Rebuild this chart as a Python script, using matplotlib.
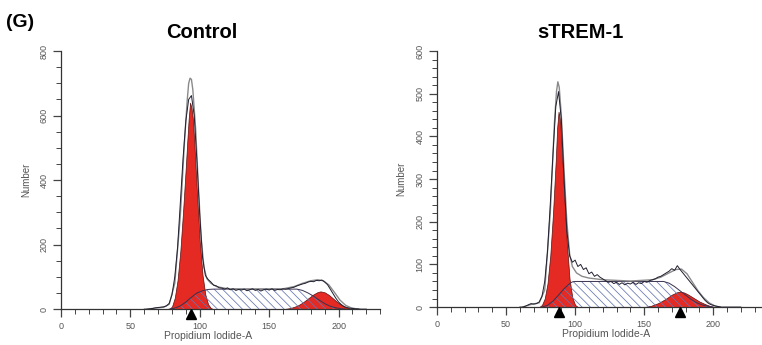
import numpy as np
import matplotlib
matplotlib.use('Agg')
import matplotlib.pyplot as plt
import matplotlib.transforms as mtransforms
from matplotlib.ticker import MultipleLocator

plt.rcParams['font.family'] = ['Liberation Sans', 'DejaVu Sans']
plt.rcParams['hatch.linewidth'] = 0.55

# channel positions of the measured histogram (both samples)
channels = np.arange(60, 222, 2)

# Control - measured counts
data_ctrl = [0, 0, 1, 2, 4, 5, 6, 7, 10, 18,
             45, 100, 190, 330, 470, 585, 650, 662, 600, 455,
             290, 160, 105, 92, 84, 74, 72, 66, 65, 62,
             66, 60, 63, 58, 61, 59, 62, 57, 60, 63,
             58, 61, 56, 60, 62, 59, 63, 58, 61, 60,
             63, 62, 64, 66, 68, 72, 75, 78, 80, 84,
             86, 85, 89, 88, 90, 84, 76, 62, 48, 34,
             22, 14, 8, 5, 3, 2, 1, 1, 0, 0,
             0]

# sTREM-1 - measured counts
data_trem = [0, 0, 2, 5, 8, 7, 8, 12, 25, 60,
             130, 240, 360, 470, 505, 440, 300, 180, 120, 105,
             110, 95, 100, 88, 92, 78, 82, 72, 76, 70,
             66, 62, 58, 60, 55, 58, 53, 57, 52, 56,
             54, 58, 53, 57, 55, 60, 58, 62, 64, 66,
             70, 72, 76, 80, 84, 90, 86, 97, 88, 80,
             72, 64, 56, 48, 40, 32, 24, 16, 10, 6,
             4, 2, 1, 0, 0, 0, 0, 0, 0, 0,
             0]

# outer (smoothed) envelope
env_x_ctrl = [62, 68, 74, 78, 82, 86, 89, 91, 92, 93,
              94, 95, 97, 99, 101, 103, 105, 108, 112, 120,
              140, 160, 168, 174, 180, 185, 189, 193, 197, 201,
              205, 209, 214]
env_y_ctrl = [0, 3, 6, 15, 80, 290, 520, 650, 700, 716,
              712, 680, 560, 380, 220, 130, 95, 80, 70, 63,
              62, 63, 70, 80, 88, 91, 88, 75, 52, 28,
              12, 4, 0]
env_x_trem = [62, 68, 74, 78, 82, 85, 86.5, 87.5, 88.5, 90,
              92, 94, 96, 98, 101, 105, 110, 120, 140, 156,
              162, 168, 173, 177, 181, 185, 189, 193, 197, 201,
              205]
env_y_trem = [0, 6, 10, 40, 220, 430, 505, 528, 515, 450,
              320, 200, 125, 95, 80, 72, 68, 64, 61, 64,
              70, 80, 88, 89, 78, 58, 38, 22, 10, 3,
              0]

# model components - Control
g1_x_ctrl = [78, 80, 82, 84, 86, 88, 90, 91, 92, 93, 94, 95, 96, 98, 100, 102, 104, 106, 108, 110]
g1_y_ctrl = [0, 8, 35, 90, 180, 305, 445, 520, 590, 640, 625, 590, 520, 360, 210, 105, 45, 15, 3, 0]
s_x_ctrl = [78, 82, 86, 90, 94, 98, 102, 106, 110, 170, 174, 178, 182, 186, 190, 194, 198, 202, 205]
s_y_ctrl = [0, 3, 10, 22, 37, 50, 57, 61, 62, 62, 58, 50, 40, 28, 17, 9, 4, 1, 0]
g2_x_ctrl = [160, 165, 170, 174, 178, 182, 185, 187, 190, 193, 196, 199, 202, 205, 208, 211]
g2_y_ctrl = [0, 3, 10, 20, 33, 46, 53, 55, 52, 44, 33, 22, 13, 6, 2, 0]

# model components - sTREM-1
g1_x_trem = [74, 76, 78, 80, 82, 84, 86, 87, 88, 89, 90, 92, 94, 96, 98, 100, 102]
g1_y_trem = [0, 5, 20, 55, 120, 220, 345, 420, 458, 440, 395, 270, 150, 65, 22, 5, 0]
s_x_trem = [76, 80, 84, 88, 92, 96, 98, 100, 164, 168, 172, 176, 180, 184, 188, 192, 196, 200]
s_y_trem = [0, 4, 14, 28, 43, 55, 59, 60, 60, 56, 48, 38, 28, 18, 10, 5, 2, 0]
g2_x_trem = [150, 155, 160, 165, 170, 174, 176, 179, 182, 186, 190, 194, 198, 201]
g2_y_trem = [0, 3, 9, 18, 29, 35, 36, 34, 29, 21, 13, 7, 2, 0]

# peak markers
marks_ctrl = [94]
marks_trem = [88, 176]

RED = '#e42a22'
HATCH = '#6676b2'
GREY = '#555555'


def draw_panel(ax, fig, data, env_x, env_y, g1x, g1y, sx, sy, g2x, g2y, marks,
               ymax, ymajor, yminor, xmax):
    ax.fill_between(g1x, g1y, color=RED, linewidth=0.5, edgecolor='#5a1010', zorder=2)
    ax.fill_between(g2x, g2y, color=RED, linewidth=0.5, edgecolor='#5a1010', zorder=2)
    ax.fill_between(sx, sy, facecolor='none', edgecolor=HATCH, hatch='\\\\\\\\',
                    linewidth=0, zorder=3)
    ax.plot(sx, sy, color='#3a3050', linewidth=0.7, zorder=4)
    ax.plot(env_x, env_y, color='#8a8a8a', linewidth=1.0, zorder=5)
    ax.plot(channels, data, color='#202030', linewidth=0.7, zorder=6)

    off = mtransforms.offset_copy(ax.transData, fig=fig, x=0, y=-5, units='dots')
    ax.plot(marks, [0] * len(marks), marker='^', markersize=7, color='black',
            linestyle='none', transform=off, clip_on=False, zorder=7)

    ax.set_xlim(0, xmax)
    ax.set_ylim(0, ymax)
    ax.xaxis.set_major_locator(MultipleLocator(50))
    ax.xaxis.set_minor_locator(MultipleLocator(10))
    ax.yaxis.set_major_locator(MultipleLocator(ymajor))
    ax.yaxis.set_minor_locator(MultipleLocator(yminor))
    ax.spines['top'].set_visible(False)
    ax.spines['right'].set_visible(False)
    for sp in ['left', 'bottom']:
        ax.spines[sp].set_color('#333333')
        ax.spines[sp].set_linewidth(0.9)
    ax.tick_params(which='major', length=6, width=0.9, color='#444444',
                   labelsize=6.5, labelcolor=GREY, pad=3)
    ax.tick_params(which='minor', length=3.5, width=0.7, color='#444444')
    for lbl in ax.get_yticklabels():
        lbl.set_rotation(90)
        lbl.set_va('center')
    ax.set_ylabel('Number', fontsize=7, color=GREY, labelpad=6)
    ax.set_xlabel('Propidium Iodide-A', fontsize=7.5, color=GREY, labelpad=2)


fig = plt.figure(figsize=(7.62, 3.45), dpi=100)

ax1 = fig.add_axes([0.080, 0.104, 0.419, 0.748])
draw_panel(ax1, fig, data_ctrl, env_x_ctrl, env_y_ctrl, g1_x_ctrl, g1_y_ctrl,
           s_x_ctrl, s_y_ctrl, g2_x_ctrl, g2_y_ctrl, marks_ctrl,
           800, 200, 50, 230)
ax1.xaxis.set_label_coords(0.46, -0.085)
ax1.yaxis.set_label_coords(-0.092, 0.5)

ax2 = fig.add_axes([0.5735, 0.110, 0.435, 0.742])
draw_panel(ax2, fig, data_trem, env_x_trem, env_y_trem, g1_x_trem, g1_y_trem,
           s_x_trem, s_y_trem, g2_x_trem, g2_y_trem, marks_trem,
           600, 100, 20, 240)
ax2.xaxis.set_label_coords(0.51, -0.085)
ax2.yaxis.set_label_coords(-0.094, 0.5)

fig.text(0.265, 0.905, 'Control', fontsize=14.5, fontweight='bold', ha='center', va='center')
fig.text(0.762, 0.905, 'sTREM-1', fontsize=14.5, fontweight='bold', ha='center', va='center')
fig.text(0.008, 0.935, '(G)', fontsize=14, fontweight='bold', ha='left', va='center')

fig.savefig('out.png', dpi=100)
